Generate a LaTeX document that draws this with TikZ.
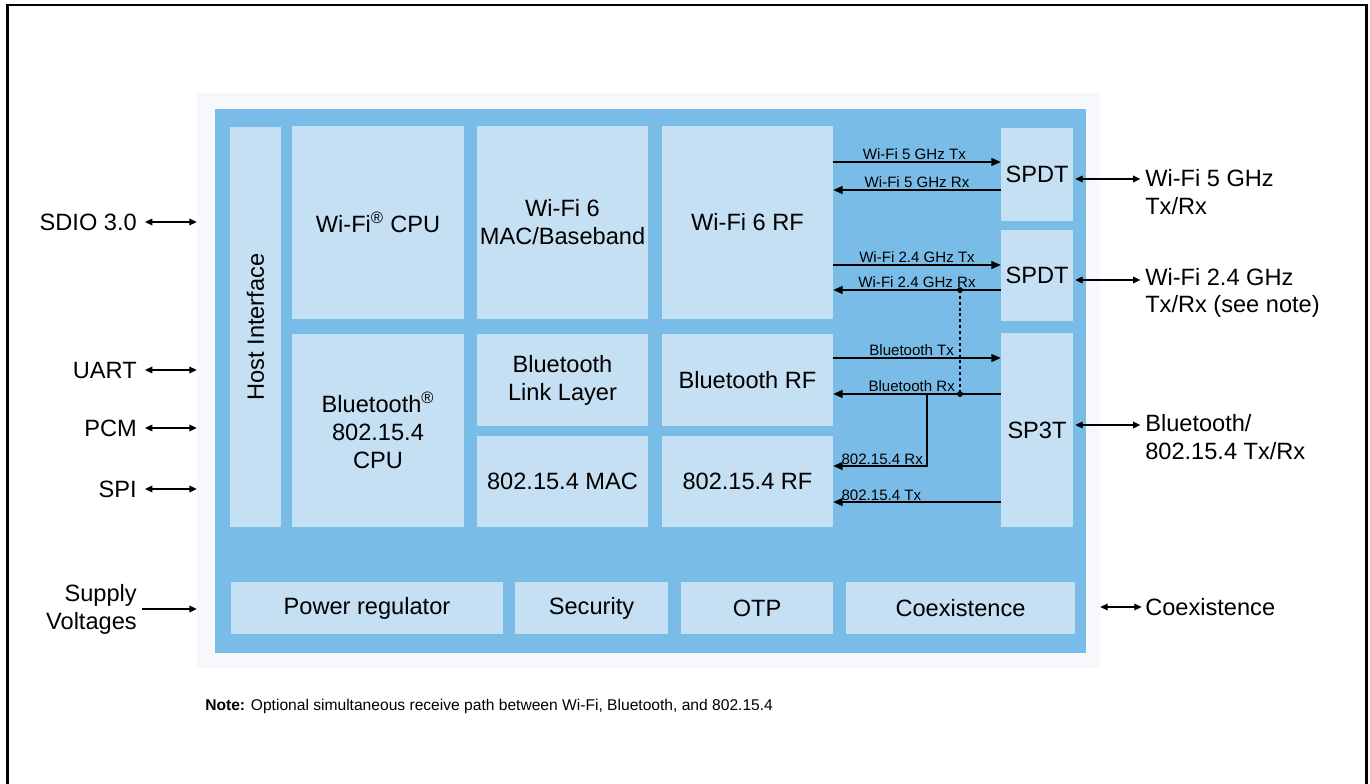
\documentclass[tikz,border=0pt]{standalone}
\usepackage{fontspec}
\setmainfont{Liberation Sans}
\usetikzlibrary{arrows.meta,calc}
\definecolor{chipblue}{RGB}{122,188,232}
\definecolor{blklight}{RGB}{197,223,243}
\definecolor{chipbg}{RGB}{246,248,251}
\tikzset{
  blk/.style={fill=blklight, draw=none, inner sep=0pt, align=center, font=\fontsize{17.7}{21}\selectfont},
  sig/.style={line width=1pt, -{Triangle[length=7pt,width=6pt]}},
  ext/.style={line width=0.9pt, {Triangle[length=5.5pt,width=5pt]}-{Triangle[length=5.5pt,width=5pt]}},
  extin/.style={line width=0.9pt, -{Triangle[length=5.5pt,width=5pt]}},
  lbl/.style={font=\fontsize{11.3}{13}\selectfont, inner sep=1pt},
  big/.style={font=\fontsize{17.7}{21}\selectfont, inner sep=0pt},
  dotline/.style={line width=1pt, dash pattern=on 2.2pt off 2.2pt},
}
\newcommand\blkbox[6]{%
  \node[blk, minimum width={(#4-#2)*0.75pt}, minimum height={(#5-#3)*0.75pt}] (#1) at ({(#2+#4)/2},{(#3+#5)/2}) {#6};}
\begin{document}
\begin{tikzpicture}[x=0.75pt,y=-0.75pt]
\useasboundingbox (0,0) rectangle (1370,784);
\fill[white] (0,0) rectangle (1370,784);
% frame
\draw[line width=2.2pt] (7.5,784) -- (7.5,5) -- (1366.5,5) -- (1366.5,784);
% chip background and die
\node[fill=chipbg, inner sep=0pt, minimum width={903*0.75pt}, minimum height={575*0.75pt}] (chip) at (648.5,380.5) {};
\node[fill=chipblue, inner sep=0pt, minimum width={871*0.75pt}, minimum height={544*0.75pt}] (die) at (650.5,381) {};
% blocks
\blkbox{host}{230}{127}{281}{527}{}
\node[big, rotate=90] (hosttxt) at (host.center) {Host Interface};
\blkbox{wcpu}{292}{126}{464}{319}{Wi-Fi\textsuperscript{®} CPU}
\blkbox{wmac}{477}{126}{648}{319}{Wi-Fi 6\\MAC/Baseband}
\blkbox{wrf}{662}{126}{833}{319}{Wi-Fi 6 RF}
\blkbox{bcpu}{292}{334}{464}{527}{Bluetooth\textsuperscript{®}\\802.15.4\\CPU}
\blkbox{bll}{477}{334}{648}{426}{Bluetooth\\Link Layer}
\blkbox{brf}{662}{334}{833}{426}{Bluetooth RF}
\blkbox{zmac}{477}{436}{648}{527}{802.15.4 MAC}
\blkbox{zrf}{662}{436}{833}{527}{802.15.4 RF}
\blkbox{spdtA}{1001}{128}{1073}{221}{SPDT}
\blkbox{spdtB}{1001}{230}{1073}{321}{SPDT}
\blkbox{sp3t}{1001}{333}{1073}{527}{SP3T}
\blkbox{pwr}{231}{582}{503}{634}{Power regulator}
\blkbox{sec}{515}{582}{668}{634}{Security}
\blkbox{otp}{681}{582}{833}{634}{OTP}
\blkbox{coex}{846}{582}{1075}{634}{Coexistence}
% internal signal rows
\coordinate (r5tx) at (0,162);
\coordinate (r5rx) at (0,190);
\coordinate (r24tx) at (0,265);
\coordinate (r24rx) at (0,290);
\coordinate (rbtx) at (0,358);
\coordinate (rbrx) at (0,394);
\coordinate (rzrx) at (0,466);
\coordinate (rztx) at (0,502);
\draw[sig] (wrf.east |- r5tx) -- (spdtA.west |- r5tx) node[lbl, midway, anchor=south, xshift=-2pt] (l5tx) {Wi-Fi 5 GHz Tx};
\draw[sig] (spdtA.west |- r5rx) -- (wrf.east |- r5rx) node[lbl, midway, anchor=south, xshift=0pt] (l5rx) {Wi-Fi 5 GHz Rx};
\draw[sig] (wrf.east |- r24tx) -- (spdtB.west |- r24tx) node[lbl, midway, anchor=south] (l24tx) {Wi-Fi 2.4 GHz Tx};
\draw[sig] (spdtB.west |- r24rx) -- (wrf.east |- r24rx) node[lbl, midway, anchor=south] (l24rx) {Wi-Fi 2.4 GHz Rx};
\draw[sig] (brf.east |- rbtx) -- (sp3t.west |- rbtx) node[lbl, midway, anchor=south, xshift=-4pt] (lbtx) {Bluetooth Tx};
\draw[sig] (sp3t.west |- rbrx) -- (brf.east |- rbrx) node[lbl, midway, anchor=south, xshift=-4pt] (lbrx) {Bluetooth Rx};
\coordinate (br) at (927,394);
\draw[sig] (br) |- (zrf.east |- rzrx);
\node[lbl, anchor=south west] (lzrx) at (840,466) {802.15.4 Rx};
\draw[sig] (sp3t.west |- rztx) -- (zrf.east |- rztx);
\node[lbl, anchor=south west] (lztx) at (840,502) {802.15.4 Tx};
% simultaneous receive tap
\coordinate (d1) at (960,290);
\coordinate (d2) at (960,394);
\draw[dotline] (d1) -- (d2);
\fill (d1) circle[radius=2.2pt];
\fill (d2) circle[radius=2.2pt];
% left external
\node[big, anchor=east] (sdio) at (137,222) {SDIO 3.0};
\node[big, anchor=east] (uart) at (137,370) {UART};
\node[big, anchor=east] (pcm) at (137,428) {PCM};
\node[big, anchor=east] (spi) at (137,489) {SPI};
\node[big, anchor=east, align=right, font=\fontsize{17.7}{21}\selectfont] (sup) at (137,609) {Supply\\Voltages};
\draw[ext] ([xshift=6pt]sdio.east) -- (sdio.east -| chip.west);
\draw[ext] ([xshift=6pt]uart.east) -- (uart.east -| chip.west);
\draw[ext] ([xshift=6pt]pcm.east) -- (pcm.east -| chip.west);
\draw[ext] ([xshift=6pt]spi.east) -- (spi.east -| chip.west);
\draw[extin] ([xshift=4pt]sup.east) -- (sup.east -| chip.west);
% right external
\coordinate (a5) at (0,179);
\coordinate (a24) at (0,280);
\coordinate (abt) at (0,425);
\coordinate (acx) at (0,607);
\node[big, anchor=west, align=left, font=\fontsize{17.7}{20.7}\selectfont] (w5) at (1145,192) {Wi-Fi 5 GHz\\Tx/Rx};
\node[big, anchor=west, align=left, font=\fontsize{17.7}{20.7}\selectfont] (w24) at (1145,293) {Wi-Fi 2.4 GHz\\Tx/Rx (see note)};
\node[big, anchor=west, align=left, font=\fontsize{17.7}{20.7}\selectfont] (wbt) at (1145,437) {Bluetooth/\\802.15.4 Tx/Rx};
\node[big, anchor=west] (wcx) at (1145,607) {Coexistence};
\draw[ext] ([xshift=1.5pt]spdtA.east |- a5) -- ([xshift=-3.5pt]w5.west |- a5);
\draw[ext] ([xshift=1.5pt]spdtB.east |- a24) -- ([xshift=-3.5pt]w24.west |- a24);
\draw[ext] ([xshift=1.5pt]sp3t.east |- abt) -- ([xshift=-3.5pt]wbt.west |- abt);
\draw[ext] (chip.east |- acx) -- ([xshift=-2.5pt]wcx.west |- acx);
% note
\node[anchor=west, inner sep=0pt, font=\fontsize{11.7}{13}\selectfont] (note) at (205,706) {\textbf{Note:} Optional simultaneous receive path between Wi-Fi, Bluetooth, and 802.15.4};
\end{tikzpicture}
\end{document}
